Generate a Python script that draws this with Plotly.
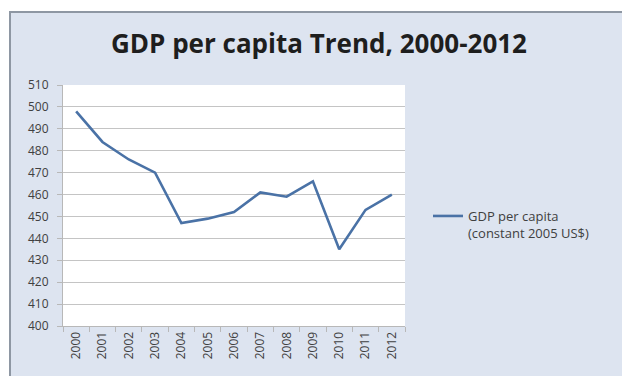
import plotly.graph_objects as go

# GDP per capita, constant 2005 US$
years = ["2000", "2001", "2002", "2003", "2004", "2005", "2006",
         "2007", "2008", "2009", "2010", "2011", "2012"]
gdp_per_capita = [498, 484, 476, 470, 447, 449, 452, 461, 459, 466, 435, 453, 460]
y_ticks = list(range(400, 511, 10))

series_name = "GDP per capita<br>(constant 2005 US$)"
title_text = "GDP per capita Trend, 2000-2012"

W, H = 622, 376
L, R, T, B = 63, 217, 85, 50
pw, ph = W - L - R, H - T - B


def px_x(x):
    return (x - L) / pw


def px_y(y):
    return (H - B - y) / ph


fig = go.Figure()
fig.add_trace(go.Scatter(
    x=years, y=gdp_per_capita, mode="lines", name=series_name,
    line=dict(color="#4a72a6", width=2.6),
))

shapes = [
    # outer chart frame
    dict(type="rect", xref="paper", yref="paper", layer="below",
         x0=px_x(10), x1=px_x(640), y0=px_y(390), y1=px_y(12),
         fillcolor="#dde4f0", line=dict(color="#8e97a3", width=2)),
    # plot area
    dict(type="rect", xref="paper", yref="paper", layer="below",
         x0=0, x1=1, y0=0, y1=1,
         fillcolor="#ffffff", line=dict(width=0)),
]

fig.update_layout(
    width=W, height=H,
    margin=dict(l=L, r=R, t=T, b=B),
    paper_bgcolor="#ffffff",
    plot_bgcolor="rgba(0,0,0,0)",
    shapes=shapes,
    title=dict(text="<b>" + title_text + "</b>", xref="container",
               x=319 / W, xanchor="center",
               yref="container", y=1 - 44 / H, yanchor="middle",
               font=dict(family="Open Sans", size=26, color="#1e1e1e")),
    showlegend=True,
    legend=dict(x=px_x(428), y=px_y(201), xanchor="left", yanchor="top",
                bgcolor="rgba(0,0,0,0)", valign="top",
                font=dict(family="Open Sans", size=13, color="#404040"),
                itemwidth=30, tracegroupgap=0),
    font=dict(family="Open Sans", color="#404040"),
)

fig.update_xaxes(
    type="category", categoryorder="array", categoryarray=years,
    range=[-0.5, len(years) - 0.5],
    tickangle=-90, tickson="boundaries", ticks="outside", ticklen=5,
    tickcolor="#b8b8b8", showline=True, linecolor="#b8b8b8", linewidth=1,
    showgrid=False, tickfont=dict(size=12, color="#404040"),
)
fig.update_yaxes(
    range=[400, 510], tickvals=y_ticks, ticks="outside", ticklen=5,
    tickcolor="#b8b8b8", showline=True, linecolor="#b8b8b8", linewidth=1,
    showgrid=True, gridcolor="#c4c4c4", gridwidth=1, zeroline=False,
    ticklabelstandoff=6,
    tickfont=dict(size=12, color="#404040"),
)

fig.write_html("out.html")
